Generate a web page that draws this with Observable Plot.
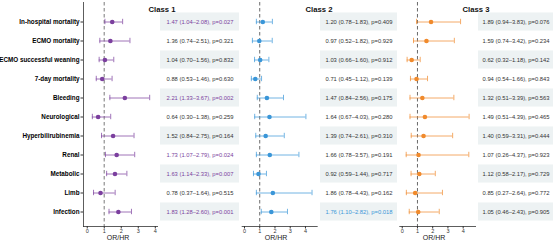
<!DOCTYPE html>
<html><head><meta charset="utf-8">
<script src="https://cdn.jsdelivr.net/npm/d3@7"></script>
<script src="https://cdn.jsdelivr.net/npm/@observablehq/plot@0.6"></script>
<style>
body{margin:0;background:#fff;font-family:"Liberation Sans",Arial,sans-serif;}
#wrap{position:relative;width:553px;height:241px;overflow:hidden;background:#fff}
#wrap > *{position:absolute;top:0}
.title{font-weight:bold;font-size:7.7px;line-height:8px;text-align:center;color:#111}
.xlab{font-size:7px;line-height:7px;text-align:center;color:#222}
</style></head><body><div id="wrap"></div>
<script>
const outcomes = ["In-hospital mortality","ECMO mortality","ECMO successful weaning","7-day mortality","Bleeding","Neurological","Hyperbilirubinemia","Renal","Metabolic","Limb","Infection"];
const classNames = ["Class 1","Class 2","Class 3"];
const xTicks = [0,1,2,3,4];

const c1Est = [1.47,1.36,1.04,0.88,2.21,0.64,1.52,1.73,1.63,0.78,1.83];
const c1Lo  = [1.04,0.74,0.70,0.53,1.33,0.30,0.84,1.07,1.14,0.37,1.28];
const c1Hi  = [2.08,2.51,1.56,1.46,3.67,1.38,2.75,2.79,2.33,1.64,2.60];
const c1P   = ["0.027","0.321","0.832","0.630","0.002","0.259","0.164","0.024","0.007","0.515","0.001"];

const c2Est = [1.20,0.97,1.03,0.71,1.47,1.64,1.39,1.66,0.92,1.86,1.76];
const c2Lo  = [0.78,0.52,0.66,0.45,0.84,0.67,0.74,0.78,0.59,0.78,1.10];
const c2Hi  = [1.83,1.82,1.60,1.12,2.56,4.03,2.61,3.57,1.44,4.43,2.82];
const c2P   = ["0.409","0.929","0.912","0.139","0.175","0.280","0.310","0.191","0.717","0.162","0.018"];

const c3Est = [1.89,1.59,0.62,0.94,1.32,1.49,1.40,1.07,1.12,0.85,1.05];
const c3Lo  = [0.94,0.74,0.32,0.54,0.51,0.51,0.59,0.26,0.58,0.27,0.46];
const c3Hi  = [3.83,3.42,1.18,1.66,3.39,4.39,3.31,4.37,2.17,2.64,2.43];
const c3P   = ["0.076","0.234","0.142","0.843","0.563","0.465","0.444","0.923","0.729","0.772","0.905"];

const colors = ["#7b3f9e","#3a96d8","#f08a2c"];

function rowsOf(est, lo, hi, p){
  return outcomes.map((name,i)=>({
    name, est:est[i], lo:lo[i], hi:hi[i], p:p[i],
    sig: +p[i] < 0.05,
    label: `${est[i].toFixed(2)} (${lo[i].toFixed(2)}\u2013${hi[i].toFixed(2)}), p=${p[i]}`
  }));
}
const data = [rowsOf(c1Est,c1Lo,c1Hi,c1P), rowsOf(c2Est,c2Lo,c2Hi,c2P), rowsOf(c3Est,c3Lo,c3Hi,c3P)];

const H = 241, MT = 2, MB = 15, IT = 9.1, IB = 3.7;
const font = "Liberation Sans, Arial, sans-serif";

function forest(rows, color, o){
  const marks = [
    Plot.frame({anchor:"bottom", stroke:"#333", strokeWidth:0.8}),
    Plot.ruleX([1], {stroke:o.refColor, strokeWidth:o.refWidth, strokeDasharray:o.dash}),
    Plot.ruleY(rows, {y:"name", x1:"lo", x2:"hi", stroke:color, strokeOpacity:0.8, strokeWidth:0.9}),
    Plot.tickX(rows, {x:"lo", y:"name", stroke:color, strokeOpacity:0.8, strokeWidth:0.9, insetTop:6.8, insetBottom:6.8}),
    Plot.tickX(rows, {x:"hi", y:"name", stroke:color, strokeOpacity:0.8, strokeWidth:0.9, insetTop:6.8, insetBottom:6.8}),
    Plot.dot(rows, {x:"est", y:"name", fill:color, r:2.3}),
    Plot.axisX({ticks:xTicks, tickFormat:"d", tickSize:2.5, tickPadding:0.5, fontSize:5.5, fill:"#333", stroke:"#333", label:null})
  ];
  if (o.showY) {
    marks.unshift(Plot.frame({anchor:"left", stroke:"#333", strokeWidth:0.8}));
    marks.push(Plot.axisY({tickSize:2.5, tickPadding:1.5, fontSize:6.3, fontWeight:"bold", fill:"#000", stroke:"#333", label:null}));
  }
  const svg = Plot.plot({
    width:o.width, height:H, marginLeft:o.ml, marginRight:o.mr, marginTop:MT, marginBottom:MB,
    insetTop:IT, insetBottom:IB,
    x:{domain:o.domain, label:null, axis:null},
    y:{domain:outcomes, padding:0, label:null, axis:null},
    style:{fontFamily:font, background:"transparent", overflow:"visible", color:"#000"},
    marks
  });
  svg.style.left = o.left + "px";
  return svg;
}

function table(rows, color, o){
  const svg = Plot.plot({
    width:o.width, height:H, marginLeft:0, marginRight:0, marginTop:MT, marginBottom:MB,
    insetTop:IT, insetBottom:IB,
    x:{domain:[0,1], axis:null},
    y:{domain:outcomes, padding:0, axis:null},
    style:{fontFamily:font, background:"transparent"},
    marks:[
      Plot.barX(rows.filter((d,i)=>i%2===0), {x1:0, x2:1, y:"name", fill:"#edf2f3", insetTop:0.45, insetBottom:0.45}),
      Plot.text(rows, {x:0.5, y:"name", text:"label", fontSize:5.8, fill:d=>d.sig ? color : "#333"})
    ]
  });
  svg.style.left = o.left + "px";
  return svg;
}

const wrap = document.getElementById("wrap");
const cfg = [
  {f:{left:0, width:160, ml:83, mr:3, domain:[-0.22,4.13], showY:true, refColor:"#a0a0a0", refWidth:1.4, dash:"3.5,2.5"},
   t:{left:160, width:79}, title:[122,80], xl:118},
  {f:{left:238, width:82, ml:3.7, mr:3.3, domain:[-0.15,4.77], showY:false, refColor:"#444", refWidth:0.8, dash:"3.5,2.5"},
   t:{left:320, width:77}, title:[279,80], xl:276},
  {f:{left:396, width:82, ml:3.3, mr:3, domain:[-0.16,4.81], showY:false, refColor:"#444", refWidth:0.8, dash:"3.5,2.5"},
   t:{left:478, width:75}, title:[436,80], xl:434}
];
cfg.forEach((c,i)=>{
  wrap.appendChild(table(data[i], colors[i], c.t));
  wrap.appendChild(forest(data[i], colors[i], c.f));
  const t = document.createElement("div");
  t.className = "title"; t.textContent = classNames[i];
  t.style.left = c.title[0] + "px"; t.style.width = c.title[1] + "px"; t.style.top = "6px";
  wrap.appendChild(t);
  const xl = document.createElement("div");
  xl.className = "xlab"; xl.textContent = "OR/HR";
  xl.style.left = (c.xl - 20) + "px"; xl.style.width = "40px"; xl.style.top = "234px";
  wrap.appendChild(xl);
});
</script></body></html>
